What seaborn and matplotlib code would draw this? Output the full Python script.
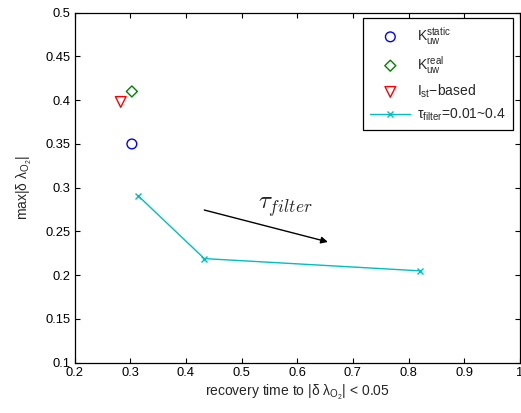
import numpy as np
import pandas as pd
import matplotlib
matplotlib.use("Agg")
import matplotlib.pyplot as plt
import seaborn as sns
from matplotlib.ticker import FuncFormatter

# Single-point results for the three reference estimators
static_x, static_y = [0.303], [0.350]
real_x, real_y = [0.303], [0.410]
ist_x, ist_y = [0.283], [0.398]

# Filtered estimator swept over tau_filter
tau_recovery = [0.314, 0.433, 0.820]
tau_maxdev = [0.291, 0.219, 0.205]

x_ticks = [0.2, 0.3, 0.4, 0.5, 0.6, 0.7, 0.8, 0.9, 1.0]
y_ticks = [0.1, 0.15, 0.2, 0.25, 0.3, 0.35, 0.4, 0.45, 0.5]

sns.set_theme(style="ticks")
plt.rcParams["font.family"] = ["Liberation Sans", "DejaVu Sans"]
plt.rcParams["mathtext.fontset"] = "custom"
plt.rcParams["mathtext.rm"] = "Liberation Sans"
plt.rcParams["mathtext.it"] = "Liberation Sans"
plt.rcParams["mathtext.default"] = "regular"

fig = plt.figure(figsize=(5.21, 4.13), dpi=100)
ax = fig.add_axes([74.5 / 521, 50.3 / 413, 445.5 / 521, 350 / 413])

ms = 7
sns.scatterplot(x=static_x, y=static_y, ax=ax, marker="o", s=ms**2,
                facecolors="none", edgecolor="#0000ff", linewidth=1.0,
                label=r"$K_{uw}^{static}$")
sns.scatterplot(x=real_x, y=real_y, ax=ax, marker="D", s=(ms * 0.8)**2,
                facecolors="none", edgecolor="#008000", linewidth=1.0,
                label=r"$K_{uw}^{real}$")
sns.scatterplot(x=ist_x, y=ist_y, ax=ax, marker="v", s=(ms * 1.1)**2,
                facecolors="none", edgecolor="#ff0000", linewidth=1.0,
                label=r"$I_{st}$$-$based")
sns.lineplot(x=tau_recovery, y=tau_maxdev, ax=ax, sort=False, color="#00bfbf",
             linewidth=1.0, marker="x", markersize=5, markeredgewidth=1.0,
             markeredgecolor="#00bfbf", label=r"$\tau_{filter}$=0.01~0.4")

# Arrow showing the direction of increasing filter time constant
ax.annotate("", xy=(0.655, 0.238), xytext=(0.433, 0.2745),
            arrowprops=dict(arrowstyle="-|>", color="black", lw=1.0,
                            mutation_scale=10, shrinkA=0, shrinkB=0))
ax.text(0.578, 0.2775, r"$\mathit{\tau}_{\mathit{filter}}$", fontsize=18,
        math_fontfamily="cm", ha="center", va="center")

ax.set_xlim(0.2, 1.0)
ax.set_ylim(0.1, 0.5)
ax.set_xticks(x_ticks)
ax.set_yticks(y_ticks)
ax.xaxis.set_major_formatter(FuncFormatter(lambda v, p: f"{v:g}"))
ax.yaxis.set_major_formatter(FuncFormatter(lambda v, p: f"{v:g}"))
ax.tick_params(direction="in", length=3.5, width=0.8, labelsize=9.3,
               top=True, right=True, pad=3, colors="black")
for sp in ax.spines.values():
    sp.set_visible(True)
    sp.set_linewidth(0.9)
    sp.set_color("black")

ax.set_xlabel(r"recovery time to |δ λ$_{O_2}$| < 0.05", fontsize=10, labelpad=3)
ax.set_ylabel(r"max|δ λ$_{O_2}$|", fontsize=10, labelpad=8)

leg = ax.legend(loc="upper right", bbox_to_anchor=(0.984, 0.985), fontsize=10,
                frameon=True, fancybox=False, edgecolor="black",
                handlelength=2.9, labelspacing=0.5, borderpad=0.5,
                handletextpad=0.5, borderaxespad=0)
leg.get_frame().set_linewidth(0.9)
leg.get_frame().set_alpha(1)

fig.savefig("out.png", dpi=100)
